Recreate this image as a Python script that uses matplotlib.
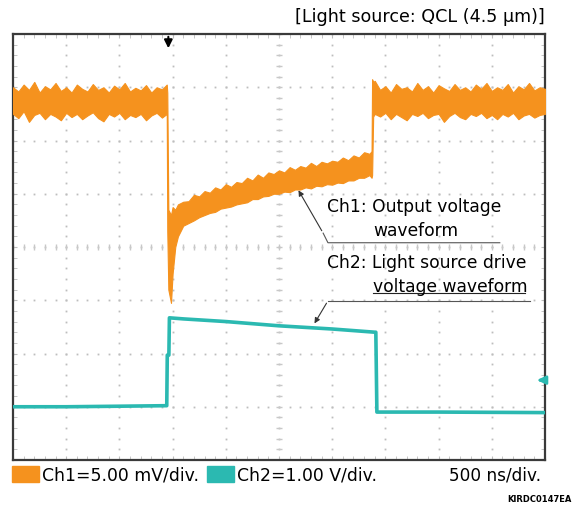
import numpy as np
import matplotlib
matplotlib.use("Agg")
from matplotlib import pyplot as plt
from matplotlib.patches import Rectangle

# ---- data (divisions: x 0..10, y 0..8) ----
# Ch1 output voltage: upper / lower edge of the noisy trace
ch1_pre_t = list(np.round(np.arange(0, 2.85, 0.1), 2)) + [2.89]
ch1_pre_hi = [7.0, 6.92, 7.05, 6.95, 7.1, 6.9, 7.02, 6.96, 7.08, 6.93,
              7.0, 6.9, 7.05, 6.97, 6.92, 7.06, 6.95, 7.0, 6.9, 7.03,
              6.96, 7.08, 6.92, 6.99, 6.94, 7.04, 6.9, 7.0, 6.96, 7.05]
ch1_pre_lo = [6.5, 6.42, 6.55, 6.35, 6.48, 6.52, 6.4, 6.5, 6.45, 6.38,
              6.52, 6.44, 6.5, 6.4, 6.47, 6.53, 6.42, 6.36, 6.5, 6.45,
              6.52, 6.4, 6.48, 6.44, 6.5, 6.38, 6.47, 6.52, 6.43, 6.5]

ch1_fall_t = [2.9, 2.92, 2.97, 3.0, 3.05, 3.1]
ch1_fall_hi = [6.9, 4.7, 4.6, 4.75, 4.7, 4.8]
ch1_fall_lo = [4.3, 3.2, 2.95, 3.5, 4.0, 4.2]

ch1_post_t = list(np.round(np.arange(3.2, 6.75, 0.1), 2))
ch1_post_hi = [4.85, 4.86, 4.98, 4.95, 5.05, 5.02, 5.12, 5.08, 5.18, 5.13,
               5.22, 5.2, 5.3, 5.25, 5.36, 5.3, 5.4, 5.37, 5.44, 5.4,
               5.5, 5.45, 5.52, 5.49, 5.58, 5.52, 5.6, 5.57, 5.62, 5.6,
               5.68, 5.63, 5.72, 5.68, 5.78, 5.75]
ch1_post_lo = [4.4, 4.45, 4.5, 4.56, 4.6, 4.64, 4.66, 4.72, 4.74, 4.76,
               4.8, 4.82, 4.84, 4.9, 4.9, 4.95, 4.96, 5.0, 5.0, 5.04,
               5.03, 5.08, 5.08, 5.12, 5.1, 5.15, 5.14, 5.18, 5.17, 5.21,
               5.2, 5.25, 5.25, 5.3, 5.3, 5.35]

ch1_rise_t = [6.74, 6.75, 6.77]
ch1_rise_hi = [5.8, 7.15, 7.1]
ch1_rise_lo = [5.3, 5.35, 6.45]

ch1_end_t = list(np.round(np.arange(6.8, 10.001, 0.1), 2))
ch1_end_hi = [7.12, 6.95, 7.02, 6.9, 7.06, 6.97, 7.0, 6.92, 7.08, 6.95,
              7.02, 6.9, 7.04, 6.98, 6.93, 7.06, 6.95, 7.0, 6.92, 7.05,
              6.97, 7.08, 6.93, 7.0, 6.95, 7.06, 6.9, 7.02, 6.96, 7.08,
              6.94, 7.0, 6.97]
ch1_end_lo = [6.5, 6.45, 6.52, 6.4, 6.5, 6.44, 6.38, 6.5, 6.46, 6.52,
              6.42, 6.48, 6.5, 6.35, 6.46, 6.52, 6.44, 6.4, 6.5, 6.46,
              6.52, 6.42, 6.48, 6.4, 6.5, 6.45, 6.52, 6.4, 6.47, 6.5,
              6.43, 6.48, 6.5]

# Ch2 light source drive voltage
ch2_t = [0, 1, 2, 2.89, 2.9, 2.93, 2.94, 3.2, 4.0, 5.0, 6.0, 6.8, 6.82, 6.84, 8.0, 10.0]
ch2_v = [1.0, 1.0, 1.01, 1.02, 1.97, 1.97, 2.67, 2.65, 2.6, 2.52, 2.46, 2.4, 2.4, 0.9, 0.9, 0.89]

orange = '#F5921E'
teal = '#2BB9B1'

fig = plt.figure(figsize=(5.8, 5.12), dpi=100)
ax = fig.add_axes([13 / 580, 52 / 512, 532 / 580, 426 / 512])
ax.set_xlim(0, 10)
ax.set_ylim(0, 8)

# scope graticule
minor = np.arange(0, 10.01, 0.2)
minor_y = np.arange(0, 8.01, 0.2)
for gx in range(1, 10):
    ax.plot(np.full_like(minor_y, gx), minor_y, ls='none', marker='s', ms=1.3,
            mew=0, color='#bdbdbd', zorder=1)
for gy in range(1, 8):
    ax.plot(minor, np.full_like(minor, gy), ls='none', marker='s', ms=1.3,
            mew=0, color='#bdbdbd', zorder=1)
ax.plot(minor, np.full_like(minor, 4), ls='none', marker='|', ms=4,
        color='#c8c8c8', zorder=1)
ax.plot(np.full_like(minor_y, 5), minor_y, ls='none', marker='_', ms=4,
        color='#c8c8c8', zorder=1)
ax.set_xticks(np.arange(0, 10.01, 1))
ax.set_yticks(np.arange(0, 8.01, 1))
ax.set_xticks(minor, minor=True)
ax.set_yticks(minor_y, minor=True)
ax.tick_params(which='both', direction='in', length=3, color='#bdbdbd',
               top=True, right=True, labelbottom=False, labelleft=False)
for s in ax.spines.values():
    s.set_color('#3a3a3a')
    s.set_linewidth(1.6)

# traces
t1 = ch1_pre_t + ch1_fall_t + ch1_post_t + ch1_rise_t + ch1_end_t
hi1 = ch1_pre_hi + ch1_fall_hi + ch1_post_hi + ch1_rise_hi + ch1_end_hi
lo1 = ch1_pre_lo + ch1_fall_lo + ch1_post_lo + ch1_rise_lo + ch1_end_lo
ax.fill_between(t1, lo1, hi1, color=orange, lw=0.8, edgecolor=orange, zorder=3)
ax.plot(ch2_t, ch2_v, color=teal, lw=2.6, zorder=3)

# markers: trigger and Ch2 ground
ax.annotate('', xy=(2.92, 7.68), xytext=(2.92, 8.0),
            arrowprops=dict(arrowstyle='-|>', color='black', lw=1.5, mutation_scale=12))
ax.annotate('', xy=(9.8, 1.5), xytext=(10.0, 1.5),
            arrowprops=dict(arrowstyle='-|>', color=teal, lw=2, mutation_scale=12))

# callouts
ax.annotate('', xy=(5.34, 5.11), xytext=(5.83, 4.26),
            arrowprops=dict(arrowstyle='-|>', color='#333333', lw=0.8, mutation_scale=8))
ax.plot([5.83, 5.92, 9.15], [4.26, 4.08, 4.08], color='#555555', lw=0.8, zorder=4)
ax.text(5.9, 4.75, 'Ch1: Output voltage', fontsize=12.3, va='center', ha='left', zorder=5)
ax.text(6.77, 4.3, 'waveform', fontsize=12.3, va='center', ha='left', zorder=5)

ax.annotate('', xy=(5.64, 2.52), xytext=(5.92, 2.99),
            arrowprops=dict(arrowstyle='-|>', color='#333333', lw=0.8, mutation_scale=8))
ax.plot([5.92, 9.72], [2.99, 2.99], color='#555555', lw=0.8, zorder=4)
ax.text(5.9, 3.7, 'Ch2: Light source drive', fontsize=12.3, va='center', ha='left', zorder=5)
ax.text(6.77, 3.25, 'voltage waveform', fontsize=12.3, va='center', ha='left', zorder=5)
ax.plot([6.77, 9.62], [3.13, 3.13], color='#222222', lw=0.8, zorder=4)

# header / footer
fig.text(545 / 580, 1 - 17 / 512, '[Light source: QCL (4.5 μm)]', fontsize=12.6,
         ha='right', va='center')
fig.patches.append(Rectangle((12 / 580, 1 - 482 / 512), 27 / 580, 16 / 512,
                             transform=fig.transFigure, color=orange))
fig.text(42 / 580, 1 - 475 / 512, 'Ch1=5.00 mV/div.', fontsize=12.4, va='center')
fig.patches.append(Rectangle((207 / 580, 1 - 482 / 512), 27 / 580, 16 / 512,
                             transform=fig.transFigure, color=teal))
fig.text(237 / 580, 1 - 475 / 512, 'Ch2=1.00 V/div.', fontsize=12.4, va='center')
fig.text(541 / 580, 1 - 475 / 512, '500 ns/div.', fontsize=12.2, ha='right', va='center')
fig.text(572 / 580, 1 - 500 / 512, 'KIRDC0147EA', fontsize=6, fontweight='bold',
         ha='right', va='center')

fig.savefig('out.png', dpi=100)
